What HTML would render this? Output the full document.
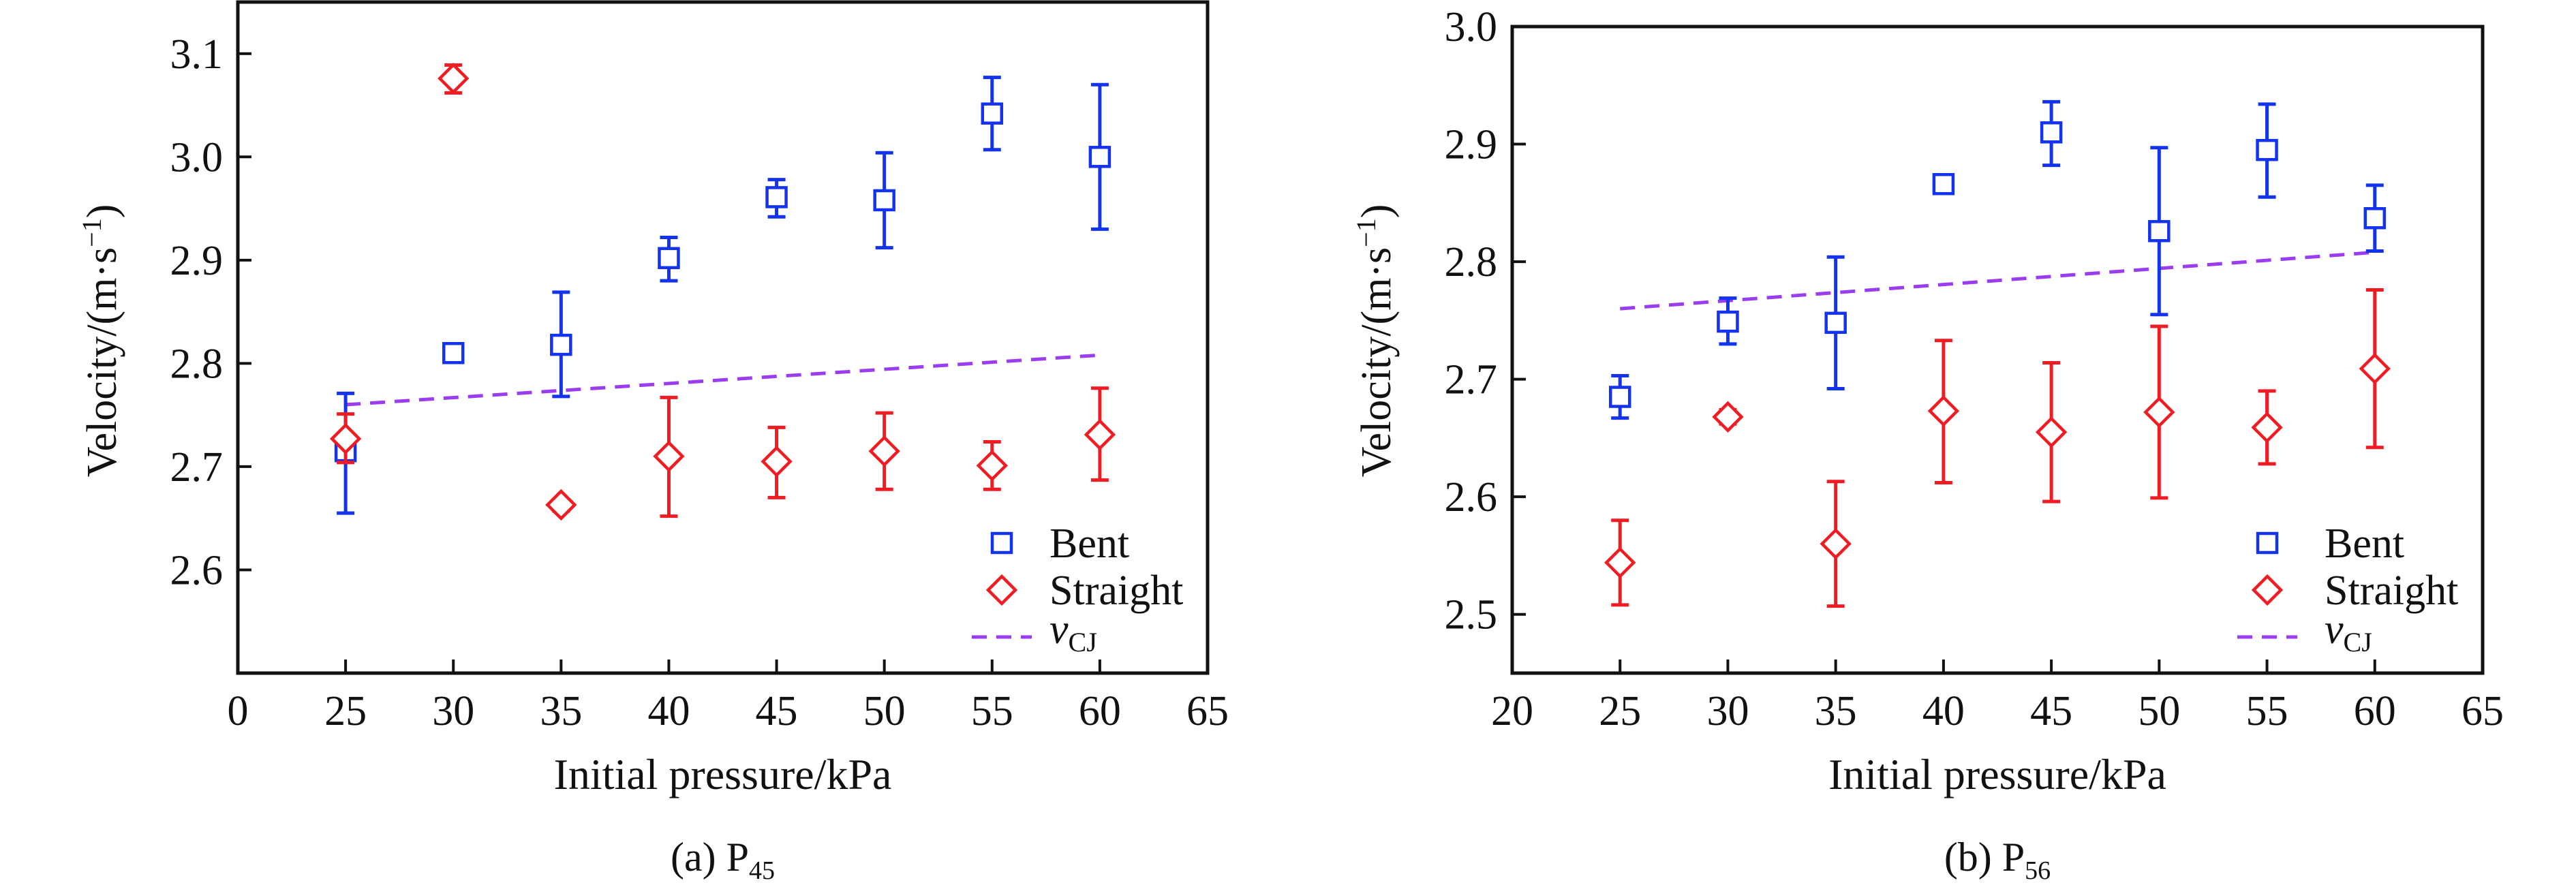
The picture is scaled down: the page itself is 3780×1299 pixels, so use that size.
<!DOCTYPE html>
<html><head><meta charset="utf-8"><style>
html,body{margin:0;padding:0;background:#fff;font-family:"Liberation Serif","DejaVu Serif",serif}
svg{display:block}
svg text{font-family:"Liberation Serif","DejaVu Serif","Noto Serif CJK SC",serif;fill:#111}
</style></head><body>
<svg id="chart" width="3780" height="1299" viewBox="0 0 3780 1299" xmlns="http://www.w3.org/2000/svg"></svg>
<script>
const categories = [25,30,35,40,45,50,55,60];
const cjX = [25,60];
const cjValues = [2.760,2.808];
// Panel a
const bentA = [2.715,2.810,2.818,2.902,2.961,2.958,3.042,3.000];
const bentALo = [2.655,2.805,2.768,2.880,2.942,2.912,3.007,2.930];
const bentAHi = [2.771,2.815,2.869,2.922,2.978,3.004,3.077,3.070];
const strA = [2.727,3.076,2.663,2.710,2.705,2.715,2.701,2.731];
const strALo = [2.704,3.062,2.657,2.652,2.670,2.678,2.678,2.687];
const strAHi = [2.751,3.089,2.668,2.767,2.738,2.752,2.724,2.776];
const xTicksA = [20,25,30,35,40,45,50,55,60,65];
const xTickLabelsA = ["0","25","30","35","40","45","50","55","60","65"];
const yTicksA = [2.6,2.7,2.8,2.9,3.0,3.1];
// Panel b
const bentB = [2.685,2.749,2.748,2.866,2.910,2.826,2.895,2.837];
const bentBLo = [2.667,2.730,2.692,2.863,2.882,2.755,2.855,2.809];
const bentBHi = [2.703,2.769,2.804,2.869,2.936,2.897,2.934,2.865];
const strB = [2.544,2.668,2.560,2.673,2.655,2.672,2.659,2.709];
const strBLo = [2.508,2.662,2.507,2.612,2.596,2.599,2.628,2.642];
const strBHi = [2.580,2.674,2.613,2.733,2.714,2.745,2.690,2.776];
const xTicksB = [20,25,30,35,40,45,50,55,60,65];
const xTickLabelsB = ["20","25","30","35","40","45","50","55","60","65"];
const yTicksB = [2.5,2.6,2.7,2.8,2.9,3.0];

const NS="http://www.w3.org/2000/svg";
const svg=document.getElementById('chart');
const BLUE="#1433ee", RED="#f01c24", PURPLE="#9a3cf0";
function mk(tag,attrs,parent){const e=document.createElementNS(NS,tag);for(const k in attrs)e.setAttribute(k,attrs[k]);if(tag==='text')e.style.fontFamily='"Liberation Serif","DejaVu Serif",serif';(parent||svg).appendChild(e);return e;}

function panel(p){
  const g=mk('g',{});
  
  
  const X=v=>p.L+(v-p.x0)/(p.x1-p.x0)*(p.R-p.L);
  const Y=v=>p.B-(v-p.y0)/(p.y1-p.y0)*(p.B-p.T);
  const fr=mk('rect',{x:p.L,y:p.T,width:p.R-p.L,height:p.B-p.T,fill:'none',stroke:'#111','stroke-width':5},g);
  
  
  p.xt.forEach((v,i)=>{
    if(v>p.x0&&v<p.x1){const t=mk('line',{x1:X(v),x2:X(v),y1:p.B,y2:p.B-20,stroke:'#111','stroke-width':4},g);
      
      }
    const tx=mk('text',{x:X(v),y:p.B+76,'font-size':62,'text-anchor':'middle'},g);
    tx.textContent=p.xl[i];
    
    
  });
  p.yt.forEach(v=>{
    const t=mk('line',{x1:p.L,x2:p.L+20,y1:Y(v),y2:Y(v),stroke:'#111','stroke-width':4},g);
    
    
    const tx=mk('text',{x:p.L-22,y:Y(v)+21,'font-size':62,'text-anchor':'end'},g);
    tx.textContent=v.toFixed(1);
    
    
  });
  const cj=mk('line',{x1:X(cjX[0]),y1:Y(cjValues[0]),x2:X(cjX[1]),y2:Y(cjValues[1]),stroke:PURPLE,'stroke-width':5,'stroke-dasharray':'22 14'},g);
  
  
  function series(vals,lo,hi,color,shape,nm){
    categories.forEach((c,i)=>{
      const x=X(c);
      const eb=mk('path',{d:`M${x},${Y(lo[i])}V${Y(hi[i])}M${x-13},${Y(lo[i])}h26M${x-13},${Y(hi[i])}h26`,stroke:color,'stroke-width':5,fill:'none'},g);
      
      
      const y=Y(vals[i]);let m;
      if(shape==='sq') m=mk('rect',{x:x-14,y:y-14,width:28,height:28,fill:'#fff',stroke:color,'stroke-width':4.5},g);
      else m=mk('path',{d:`M${x},${y-20}L${x+20},${y}L${x},${y+20}L${x-20},${y}Z`,fill:'#fff',stroke:color,'stroke-width':4.5},g);
      
      
    });
  }
  series(p.bent,p.bentLo,p.bentHi,BLUE,'sq','bent');
  series(p.str,p.strLo,p.strHi,RED,'di','straight');
  const lx=p.legX, tx=p.legTX;
  const ls=mk('rect',{x:lx-14,y:797-14,width:28,height:28,fill:'#fff',stroke:BLUE,'stroke-width':4.5},g);
  
  
  const lt1=mk('text',{x:tx,y:818,'font-size':62},g);lt1.textContent='Bent';
  
  
  const ld=mk('path',{d:`M${lx},${866-20}L${lx+20},866L${lx},${866+20}L${lx-20},866Z`,fill:'#fff',stroke:RED,'stroke-width':4.5},g);
  
  
  const lt2=mk('text',{x:tx,y:887,'font-size':62},g);lt2.textContent='Straight';
  
  
  const ll=mk('line',{x1:lx-44,x2:lx+44,y1:935,y2:935,stroke:PURPLE,'stroke-width':5,'stroke-dasharray':'22 14'},g);
  
  
  const lt3=mk('text',{x:tx,y:944,'font-size':62},g);
  lt3.innerHTML='<tspan font-style="italic">v</tspan><tspan font-size="40" dy="12">CJ</tspan>';
  
  
  const cx=(p.L+p.R)/2;
  const xl=mk('text',{x:cx,y:1158,'font-size':64,'text-anchor':'middle'},g);xl.textContent='Initial pressure/kPa';
  
  
  const yl=mk('text',{x:0,y:0,'font-size':62,'text-anchor':'middle',transform:`translate(${p.ylX},500) rotate(-90)`},g);
  yl.innerHTML='Velocity/(m·s<tspan font-size="40" dy="-22">−1</tspan><tspan dy="22">)</tspan>';
  
  
  const cap=mk('text',{x:cx,y:1278,'font-size':60,'text-anchor':'middle'},g);
  cap.innerHTML=p.cap+' P<tspan font-size="38" dy="12">'+p.sub+'</tspan>';
  
  
}
panel({name:'panel-a',L:349,R:1772,T:3,B:988,x0:20,x1:65,y0:2.5,y1:3.15,xt:xTicksA,xl:xTickLabelsA,yt:yTicksA,
  bent:bentA,bentLo:bentALo,bentHi:bentAHi,str:strA,strLo:strALo,strHi:strAHi,legX:1470,legTX:1540,ylX:170,cap:'(a)',sub:'45'});
panel({name:'panel-b',L:2219,R:3643,T:39,B:988,x0:20,x1:65,y0:2.45,y1:3.0,xt:xTicksB,xl:xTickLabelsB,yt:yTicksB,
  bent:bentB,bentLo:bentBLo,bentHi:bentBHi,str:strB,strLo:strBLo,strHi:strBHi,legX:3327,legTX:3411,ylX:2040,cap:'(b)',sub:'56'});
</script>
</body></html>
